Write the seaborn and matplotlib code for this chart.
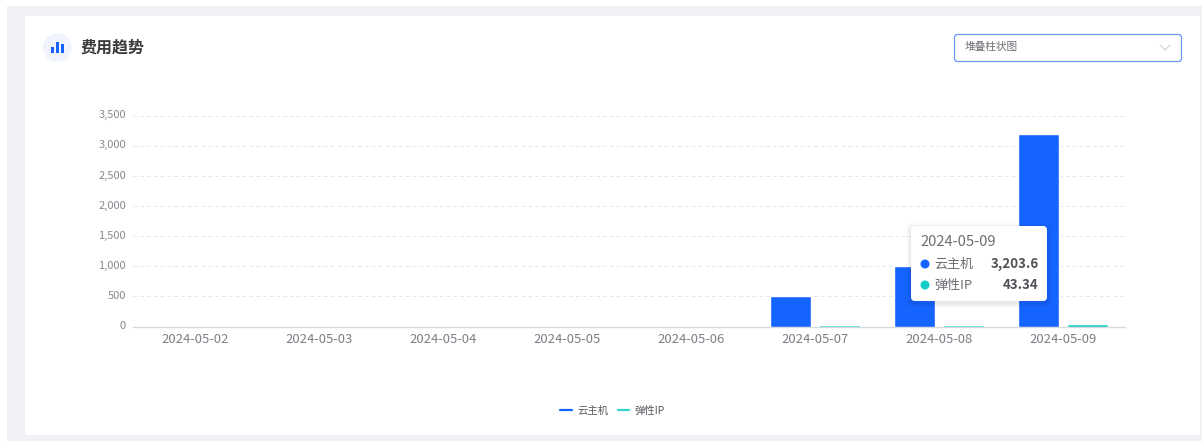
import matplotlib
matplotlib.use('Agg')
import matplotlib.pyplot as plt
from matplotlib.lines import Line2D
from matplotlib.patches import Circle, FancyBboxPatch, Rectangle
from matplotlib.transforms import ScaledTranslation
import pandas as pd
import seaborn as sns

dates = ['2024-05-02', '2024-05-03', '2024-05-04', '2024-05-05',
         '2024-05-06', '2024-05-07', '2024-05-08', '2024-05-09']
cloud_host = [0, 0, 0, 0, 0, 500, 1000, 3203.6]
elastic_ip = [0, 0, 0, 0, 0, 20, 20, 43.34]
series_names = ['云主机', '弹性IP']
y_ticks = [0, 500, 1000, 1500, 2000, 2500, 3000, 3500]

BLUE = '#1664ff'
TEAL = '#14cdc8'
W, H = 1202, 441

sns.set_style('white')
plt.rcParams['font.family'] = ['Noto Sans CJK SC', 'DejaVu Sans']

df = pd.DataFrame({
    'date': dates * 2,
    'series': [series_names[0]] * len(dates) + [series_names[1]] * len(dates),
    'value': cloud_host + elastic_ip,
})

fig = plt.figure(figsize=(W / 100, H / 100), dpi=100, facecolor='white')

# page background and card, in pixel coordinates
bg = fig.add_axes([0, 0, 1, 1], zorder=0)
bg.set_xlim(0, W)
bg.set_ylim(H, 0)
bg.axis('off')
bg.add_patch(Rectangle((7, 6), W - 7, H - 6, fc='#f0f1f5', ec='none'))
bg.add_patch(Rectangle((25, 16), 1175, 419, fc='white', ec='none'))

# chart
ax = fig.add_axes([133 / W, 1 - 326.5 / H, 992 / W, 210.5 / H], zorder=1)
ax.patch.set_alpha(0)
sns.barplot(data=df, x='date', y='value', hue='series', order=dates,
            palette=[BLUE, TEAL], width=0.79, gap=0.16, saturation=1,
            legend=False, ax=ax)
ax.set_xlim(-0.5, len(dates) - 0.5)
ax.set_ylim(0, 3500)
ax.set_yticks(y_ticks)
ax.set_yticklabels([f'{v:,}' for v in y_ticks])
ax.set_xlabel('')
ax.set_ylabel('')
ax.grid(axis='y', color='#e4e6ea', linestyle=(0, (4, 3)), linewidth=0.7)
ax.set_axisbelow(True)
sns.despine(ax=ax, left=True, top=True, right=True)
ax.spines['bottom'].set_color('#d5d8dd')
ax.spines['bottom'].set_linewidth(1)
ax.spines['bottom'].set_zorder(0.5)
ax.tick_params(axis='x', length=0, pad=5, labelsize=9.4, labelcolor='#7c7f85')
ax.tick_params(axis='y', length=0, pad=5, labelsize=8, labelcolor='#85888e')

# y labels sit a little above their grid lines
for label in ax.get_yticklabels():
    label.set_transform(label.get_transform() + ScaledTranslation(0, 1.2 / 72, fig.dpi_scale_trans))

handles = [Line2D([], [], color=BLUE, lw=1.6), Line2D([], [], color='#2fd6cc', lw=1.6)]
ax.legend(handles, series_names, loc='center', bbox_to_anchor=(479.5 / 992, -84 / 210.5),
          ncol=2, frameon=False, fontsize=7.5, labelcolor='#55585e',
          handlelength=1.1, handletextpad=0.5, columnspacing=0.9)

# header and tooltip on top of the chart
top = fig.add_axes([0, 0, 1, 1], zorder=2)
top.set_xlim(0, W)
top.set_ylim(H, 0)
top.axis('off')
top.patch.set_alpha(0)

top.add_patch(Circle((57.3, 47.7), 14.3, fc='#f1f3fd', ec='none'))
for x, y0, h in [(51.2, 46.7, 6.6), (56, 41.7, 11.6), (61, 44.3, 9)]:
    top.add_patch(Rectangle((x, y0), 3, h, fc=BLUE, ec='none'))
top.text(80.5, 47.5, '费用趋势', fontsize=11.5, color='#3a3a3a', va='center', fontweight='bold')

top.add_patch(FancyBboxPatch((954.5, 34.5), 227, 27, boxstyle='round,pad=0,rounding_size=3',
                             fc='white', ec='#6f98f8', lw=0.9))
top.text(965, 47, '堆叠柱状图', fontsize=7.7, color='#6a6d73', va='center')
top.plot([1160, 1165, 1170], [45, 50, 45], color='#cfd2d6', lw=0.8)

# tooltip shadow, then box
for pad, alpha in [(5, 0.02), (3, 0.03), (1.5, 0.04)]:
    top.add_patch(FancyBboxPatch((911 - pad, 226 - pad + 2), 136 + 2 * pad, 75 + 2 * pad,
                                 boxstyle='round,pad=0,rounding_size=5',
                                 fc='black', ec='none', alpha=alpha))
top.add_patch(FancyBboxPatch((911, 226), 136, 75, boxstyle='round,pad=0,rounding_size=4',
                             fc='white', ec='none'))
top.text(920.5, 242, dates[-1], fontsize=10.6, color='#6a6d72', va='center')
tooltip_rows = [(264, BLUE, series_names[0], f'{cloud_host[-1]:,}'),
                (285, TEAL, series_names[1], f'{elastic_ip[-1]:,}')]
for y, color, name, val in tooltip_rows:
    top.add_patch(Circle((925, y), 4.5, fc=color, ec='none'))
    top.text(934, y, name, fontsize=9.4, color='#6a6d72', va='center')
    top.text(1038.5, y, val, fontsize=9.6, color='#505257', va='center', ha='right', fontweight='bold')

fig.savefig('out.png', dpi=100)
